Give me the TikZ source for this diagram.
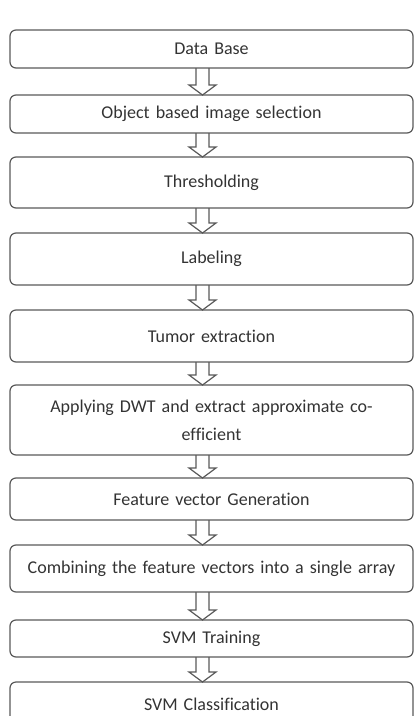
\documentclass[tikz,border=0pt]{standalone}
\usepackage{fontspec}
\setmainfont{Carlito}[RawFeature=-liga]
\usetikzlibrary{positioning,calc}
\begin{document}
\begin{tikzpicture}[x=1pt, y=1pt, node distance=25pt,
    stage/.style={draw=black!65, line width=1.2pt, rounded corners=6pt, minimum width=403pt, text width=395pt, align=center, inner sep=0pt, outer sep=0pt, text=black!80, font=\fontsize{18}{28}\selectfont},
    blockarrow/.style={draw=black!65, line width=1.2pt, line join=miter}]
    \useasboundingbox (0,0) rectangle (415,-716);

    \node[stage, minimum height=38pt] (data) at (211.5,-49) {Data Base};
    \node[stage, minimum height=38pt, below=27pt of data] (objsel) {Object based image selection};
    \node[stage, minimum height=51pt, below=24pt of objsel] (thresh) {Thresholding};
    \node[stage, minimum height=52pt, below=25pt of thresh] (label) {Labeling};
    \node[stage, minimum height=52pt, below=25pt of label] (tumor) {Tumor extraction};
    \node[stage, minimum height=70pt, below=23pt of tumor] (dwt) {Applying DWT and extract approximate co-\\efficient};
    \node[stage, minimum height=42pt, below=23pt of dwt] (featgen) {Feature vector Generation};
    \node[stage, minimum height=47pt, below=25pt of featgen] (combine) {Combining the feature vectors into a single array};
    \node[stage, minimum height=37pt, below=28pt of combine] (svmtrain) {SVM Training};
    \node[stage, minimum height=45pt, below=25pt of svmtrain] (svmclass) {SVM Classification};

    % hollow block arrows between the stages
    \foreach \a/\b in {data/objsel, objsel/thresh, thresh/label, label/tumor, tumor/dwt, dwt/featgen, featgen/combine, combine/svmtrain, svmtrain/svmclass}
        \draw[blockarrow] let \p1=($(\a.south)+(-9pt,0)$), \p2=(\b.north) in
            (\x1-6.5pt,\y1) -- (\x1-6.5pt,\y2+10pt) -- (\x1-13.5pt,\y2+10pt) -- (\x1,\y2)
            -- (\x1+13.5pt,\y2+10pt) -- (\x1+6.5pt,\y2+10pt) -- (\x1+6.5pt,\y1);
\end{tikzpicture}
\end{document}
